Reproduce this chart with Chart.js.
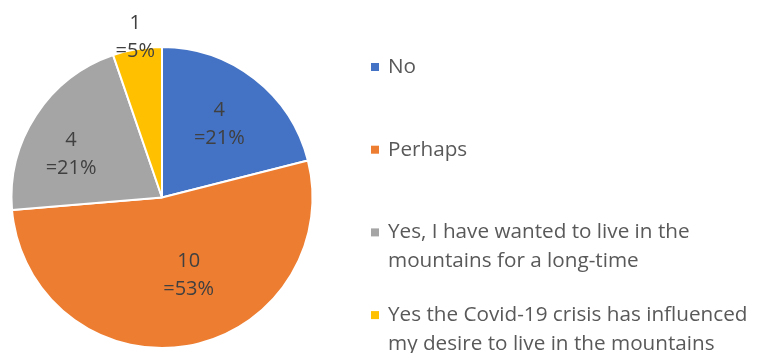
<!DOCTYPE html>
<html lang="en">
<head>
    <title>Mountains survey</title>
    <meta charset="utf-8">
    <script src="https://cdn.jsdelivr.net/npm/chart.js@4.4.0/dist/chart.umd.min.js"></script>
    <style>
        body { margin: 0; background: #ffffff; }
        #wrap { width: 766px; height: 353px; }
    </style>
</head>
<body>
<div id="wrap"><canvas id="pie-chart" width="766" height="353"></canvas></div>
<script>
// answers and counts
const answers = ["No", "Perhaps", "Yes, I have wanted to live in the mountains for a long-time", "Yes the Covid-19 crisis has influenced my desire to live in the mountains"];
const counts = [4, 10, 4, 1];
const sliceColors = ["#4472C4", "#ED7D31", "#A5A5A5", "#FFC000"];
// legend text split like the original
const legendLines = [
    ["No"],
    ["Perhaps"],
    ["Yes, I have wanted to live in the", "mountains for a long-time"],
    ["Yes the Covid-19 crisis has influenced", "my desire to live in the mountains"]
];

const FONT = "'Open Sans', Lato, sans-serif";

// where each value label sits inside its slice (fraction of the angle, fraction of the radius)
const labelAngleFrac = [0.5, 0.45, 0.40, 0.5];
const labelRadiusFrac = [0.62, 0.545, 0.67, 1.08];

const sliceLabels = {
    id: "sliceLabels",
    afterDatasetsDraw(chart) {
        const ctx = chart.ctx;
        const meta = chart.getDatasetMeta(0);
        const total = counts.reduce((a, b) => a + b, 0);
        ctx.save();
        ctx.fillStyle = "#404040";
        ctx.font = "20px " + FONT;
        ctx.textAlign = "center";
        ctx.textBaseline = "middle";
        meta.data.forEach((arc, i) => {
            const p = arc.getProps(["x", "y", "startAngle", "endAngle", "outerRadius"], true);
            const a = p.startAngle + (p.endAngle - p.startAngle) * labelAngleFrac[i];
            const r = p.outerRadius * labelRadiusFrac[i];
            const lx = p.x + Math.cos(a) * r;
            const ly = p.y + Math.sin(a) * r;
            ctx.fillText(String(counts[i]), lx, ly - 14);
            ctx.fillText("=" + Math.round(counts[i] / total * 100) + "%", lx, ly + 14);
        });
        ctx.restore();
    }
};

const sideLegend = {
    id: "sideLegend",
    afterDraw(chart) {
        const ctx = chart.ctx;
        ctx.save();
        ctx.font = "20.7px " + FONT;
        ctx.textBaseline = "middle";
        ctx.textAlign = "left";
        legendLines.forEach((lines, i) => {
            const y = 67 + i * 82.7;
            ctx.fillStyle = sliceColors[i];
            ctx.fillRect(371, y - 4, 8, 8);
            ctx.fillStyle = "#595959";
            lines.forEach((t, j) => ctx.fillText(t, 388, y + j * 29));
        });
        ctx.restore();
    }
};

new Chart("pie-chart", {
    type: "pie",
    data: {
        labels: answers,
        datasets: [{
            data: counts,
            backgroundColor: sliceColors,
            borderColor: "#ffffff",
            borderWidth: 2
        }]
    },
    options: {
        responsive: false,
        animation: false,
        layout: { padding: { left: 10, top: 46, right: 452, bottom: 4 } },
        plugins: {
            legend: { display: false },
            tooltip: { enabled: false }
        }
    },
    plugins: [sliceLabels, sideLegend]
});
</script>
</body>
</html>
